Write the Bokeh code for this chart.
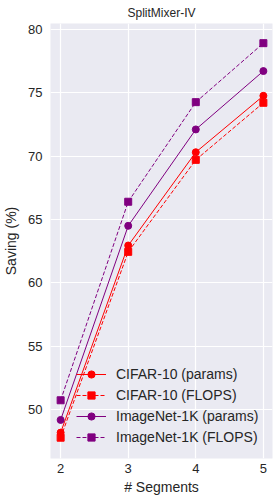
from bokeh.plotting import figure
from bokeh.models import Range1d, FixedTicker, Legend, LegendItem
from bokeh.embed import file_html
from bokeh.resources import INLINE

segments = [2, 3, 4, 5]
cifar_params = [48.2, 62.95, 70.3, 74.75]
cifar_flops = [47.8, 62.45, 69.7, 74.2]
imagenet_params = [49.2, 64.5, 72.1, 76.7]
imagenet_flops = [50.75, 66.4, 74.25, 78.9]
x_ticks = [2, 3, 4, 5]
y_ticks = [50, 55, 60, 65, 70, 75, 80]

FONT = "Liberation Sans"
TXT = "#262626"

p = figure(frame_width=222, frame_height=435, output_backend="svg", toolbar_location=None,
           x_range=Range1d(1.85, 5.135), y_range=Range1d(46.16, 80.45),
           min_border_left=40, min_border_right=1, min_border_top=14, min_border_bottom=34,
           background_fill_color="#EAEAF2", border_fill_color="white",
           title="SplitMixer-IV")
p.outline_line_color = None
p.title.text_font = FONT
p.title.text_font_size = "12px"
p.title.text_font_style = "normal"
p.title.text_color = TXT
p.title.align = "center"
p.title.standoff = 7
p.title.offset = 0

for ax in (p.xaxis, p.yaxis):
    ax.axis_line_color = None
    ax.major_tick_line_color = None
    ax.minor_tick_line_color = None
    ax.major_tick_out = 0
    ax.major_tick_in = 0
    ax.minor_tick_out = 0
    ax.major_label_text_font = FONT
    ax.major_label_text_font_size = "13px"
    ax.major_label_text_color = TXT
    ax.axis_label_text_font = FONT
    ax.axis_label_text_font_size = "14px"
    ax.axis_label_text_font_style = "normal"
    ax.axis_label_text_color = TXT
p.xaxis.ticker = FixedTicker(ticks=x_ticks)
p.yaxis.ticker = FixedTicker(ticks=y_ticks)
p.xaxis.axis_label = "# Segments"
p.yaxis.axis_label = "Saving (%)"
p.xaxis.major_label_standoff = 5
p.yaxis.major_label_standoff = 8
p.xaxis.axis_label_standoff = 3
p.yaxis.axis_label_standoff = 6
p.grid.grid_line_color = "white"
p.grid.grid_line_width = 1.2

series = [
    ("CIFAR-10 (params)", cifar_params, "#FF0000", "solid", "circle"),
    ("CIFAR-10 (FLOPS)", cifar_flops, "#FF0000", "4 2", "square"),
    ("ImageNet-1K (params)", imagenet_params, "#800080", "solid", "circle"),
    ("ImageNet-1K (FLOPS)", imagenet_flops, "#800080", "4 2", "square"),
]
items = []
for name, ys, color, dash, marker in series:
    l = p.line(segments, ys, line_color=color, line_width=1, line_dash=dash)
    s = p.scatter(segments, ys, marker=marker, size=7, fill_color=color, line_color=color)
    items.append(LegendItem(label=name, renderers=[l, s]))

legend = Legend(items=items, location=(26, 12), background_fill_alpha=0, border_line_color=None,
                label_text_font=FONT, label_text_font_size="14px", label_text_color=TXT,
                glyph_width=30, glyph_height=18, label_height=18, spacing=3,
                label_standoff=10, padding=4, margin=0)
p.add_layout(legend, "center")

open("out.html", "w").write(file_html(p, INLINE))
